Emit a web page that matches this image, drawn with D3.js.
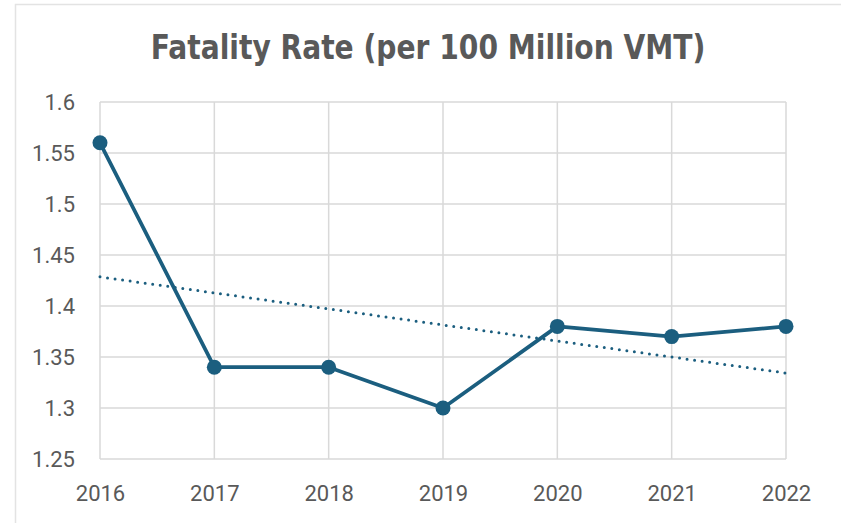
<!DOCTYPE html>
<html>
<head>
<meta charset="utf-8">
<script src="https://cdn.jsdelivr.net/npm/d3@7/dist/d3.min.js"></script>
<style>
  html, body { margin: 0; padding: 0; background: #fff; }
  svg { display: block; }
</style>
</head>
<body>
<svg id="chart" width="841" height="523"></svg>
<script>
// Fatality rate per 100 million vehicle miles traveled, by year
const years = ["2016", "2017", "2018", "2019", "2020", "2021", "2022"];
const rates = [1.56, 1.34, 1.34, 1.30, 1.38, 1.37, 1.38];
const yTicks = [1.25, 1.3, 1.35, 1.4, 1.45, 1.5, 1.55, 1.6];
const titleText = "Fatality Rate (per 100 Million VMT)";

const svg = d3.select("#chart");
const W = 841, H = 523;
const margin = { left: 100, right: 55, top: 102, bottom: 64 };
const lineColor = "#1b5e7f";
const gridColor = "#d9d9d9";
const textColor = "#595959";

// Chart frame
svg.append("rect")
  .attr("x", 15.5).attr("y", 4.5)
  .attr("width", W).attr("height", H)
  .attr("fill", "#fff")
  .attr("stroke", "#e3e3e3").attr("stroke-width", 1.5);

const x = d3.scalePoint().domain(years).range([margin.left, W - margin.right]);
const y = d3.scaleLinear().domain([1.25, 1.6]).range([H - margin.bottom, margin.top]);

// Gridlines
svg.append("g")
  .selectAll("line.h").data(yTicks).join("line")
  .attr("x1", x(years[0])).attr("x2", x(years[years.length - 1]))
  .attr("y1", d => y(d)).attr("y2", d => y(d))
  .attr("stroke", gridColor).attr("stroke-width", 1.5);
svg.append("g")
  .selectAll("line.v").data(years).join("line")
  .attr("x1", d => x(d)).attr("x2", d => x(d))
  .attr("y1", y(1.6)).attr("y2", y(1.25))
  .attr("stroke", gridColor).attr("stroke-width", 1.5);

// Axes (labels only)
const yAxis = svg.append("g")
  .attr("transform", `translate(${margin.left - 25},0)`)
  .call(d3.axisLeft(y).tickValues(yTicks).tickSize(0).tickPadding(0).tickFormat(d3.format("~g")));
const xAxis = svg.append("g")
  .attr("transform", `translate(0,${H - margin.bottom + 26})`)
  .call(d3.axisBottom(x).tickSize(0).tickPadding(0));
[yAxis, xAxis].forEach(g => {
  g.select(".domain").remove();
  g.selectAll("text")
    .attr("fill", textColor)
    .style("font-family", "Roboto, 'DejaVu Sans', sans-serif")
    .style("font-size", "22px");
});
yAxis.selectAll("text").attr("dy", "0.36em");
xAxis.selectAll("text").attr("dy", "0.71em");

// Linear trendline (least squares fit of the series)
const idx = rates.map((_, i) => i);
const mx = d3.mean(idx), my = d3.mean(rates);
const slope = d3.sum(idx, i => (i - mx) * (rates[i] - my)) / d3.sum(idx, i => (i - mx) ** 2);
const intercept = my - slope * mx;
const trend = [0, years.length - 1].map(i => [x(years[i]), y(intercept + slope * i)]);
svg.append("path")
  .attr("d", d3.line()(trend))
  .attr("fill", "none")
  .attr("stroke", lineColor)
  .attr("stroke-width", 3)
  .attr("stroke-linecap", "round")
  .attr("stroke-dasharray", "0 7.6");

// Data line and markers
svg.append("path")
  .datum(rates)
  .attr("d", d3.line().x((d, i) => x(years[i])).y(d => y(d)))
  .attr("fill", "none")
  .attr("stroke", lineColor)
  .attr("stroke-width", 3.75)
  .attr("stroke-linejoin", "round");
svg.append("g")
  .selectAll("circle").data(rates).join("circle")
  .attr("cx", (d, i) => x(years[i]))
  .attr("cy", d => y(d))
  .attr("r", 7.5)
  .attr("fill", lineColor);

// Title: tall condensed lettering, squeezed horizontally to its width
const titleG = svg.append("g");
const title = titleG.append("text")
  .attr("x", 0).attr("y", 0)
  .attr("text-anchor", "middle")
  .attr("fill", textColor)
  .style("font-family", "'DejaVu Sans', sans-serif")
  .style("font-weight", "bold")
  .style("font-size", "33px")
  .text(titleText);
const tw = title.node().getComputedTextLength();
titleG.attr("transform", `translate(428,59) scale(${(555 / tw).toFixed(4)},1)`);
</script>
</body>
</html>
